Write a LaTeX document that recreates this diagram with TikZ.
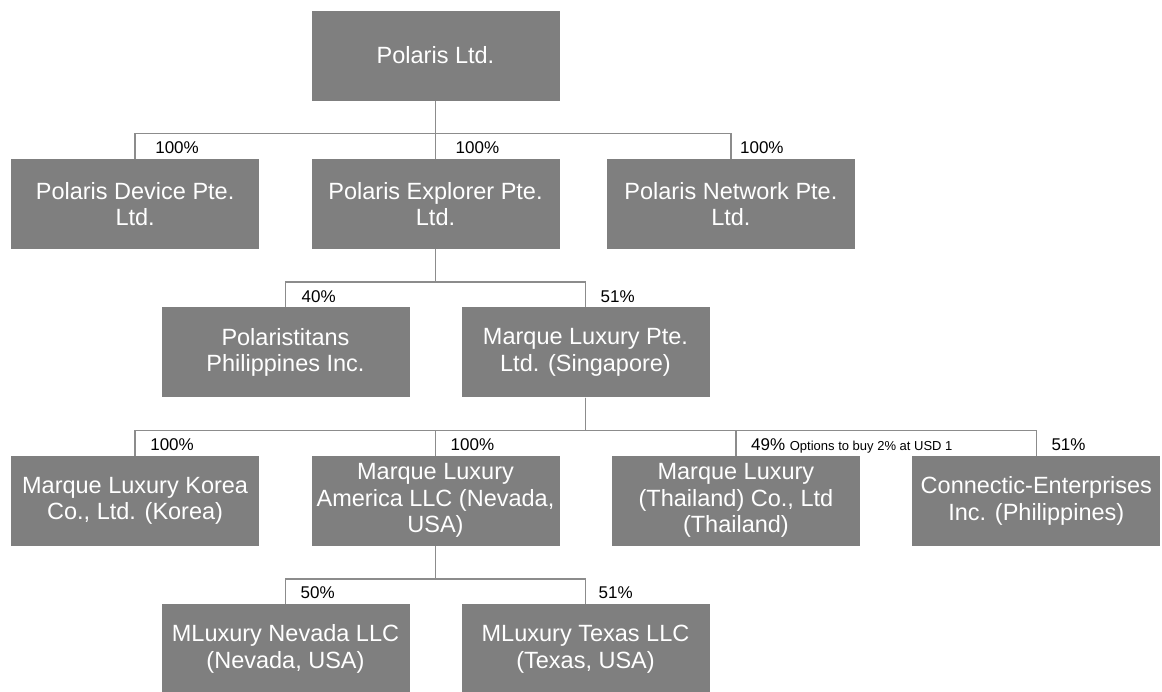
\documentclass[tikz,border=0pt]{standalone}
\usepackage{fontspec}
\setmainfont{Liberation Sans}
\usepackage{tikz}
\usetikzlibrary{positioning}
\definecolor{boxgray}{HTML}{7F7F7F}
\definecolor{linegray}{HTML}{8C8C8C}
\newcommand{\smallnote}[1]{{\fontsize{13}{15}\selectfont #1}}

\begin{document}
\begin{tikzpicture}[x=1pt, y=1pt, node distance=58pt and 52pt,
      box/.style={fill=boxgray, text=white, align=center, inner sep=0pt,
        minimum width=248pt, minimum height=90pt, font=\fontsize{23.5}{26.5}\selectfont},
      pct/.style={anchor=base west, inner sep=0pt, font=\fontsize{17}{20}\selectfont},
      link/.style={draw=linegray, line width=1.5pt}]
    \useasboundingbox (0,0) rectangle (1162,-691);
    % top holding
    \node[box] (ltd) at (435.5,-55.5) {Polaris Ltd.};
    \node[box, below=of ltd] (explorer) {Polaris Explorer Pte.\\Ltd.};
    \node[box, left=of explorer] (device) {Polaris Device Pte.\\Ltd.};
    \node[box, right=47pt of explorer] (network) {Polaris Network Pte.\\Ltd.};
    % second level
    \node[box, below=of explorer, xshift=-150pt] (titans) {Polaristitans\\Philippines Inc.};
    \node[box, below=of explorer, xshift=150pt] (marque) {Marque Luxury Pte.\\Ltd. (Singapore)};
    % third level
    \node[box, below=of marque, xshift=-150pt] (america) {Marque Luxury\\America LLC (Nevada,\\USA)};
    \node[box, left=of america] (korea) {Marque Luxury Korea\\Co., Ltd. (Korea)};
    \node[box, right=of america] (thailand) {Marque Luxury\\(Thailand) Co., Ltd\\(Thailand)};
    \node[box, right=of thailand] (connectic) {Connectic-Enterprises\\Inc. (Philippines)};
    % fourth level
    \node[box, below=of america, xshift=-150pt] (nevada) {MLuxury Nevada LLC\\(Nevada, USA)};
    \node[box, below=of america, xshift=150pt] (texas) {MLuxury Texas LLC\\(Texas, USA)};

    \draw[link] (ltd.south) -- ++(0,-33) -| (device.north);
    \draw[link] (ltd.south) -- (explorer.north);
    \draw[link] (ltd.south) -- ++(0,-33) -| (network.north);
    \draw[link] (explorer.south) -- ++(0,-33) -| (titans.north);
    \draw[link] (explorer.south) -- ++(0,-33) -| (marque.north);
    \draw[link] (marque.south) -- ++(0,-33) -| (korea.north);
    \draw[link] (marque.south) -- ++(0,-33) -| (america.north);
    \draw[link] (marque.south) -- ++(0,-33) -| (thailand.north);
    \draw[link] (marque.south) -- ++(0,-33) -| (connectic.north);
    \draw[link] (america.south) -- ++(0,-33) -| (nevada.north);
    \draw[link] (america.south) -- ++(0,-33) -| (texas.north);

    \node[pct] (pdevice) at ([xshift=20pt, yshift=5pt]device.north) {100\%};
    \node[pct] (pexplorer) at ([xshift=20pt, yshift=5pt]explorer.north) {100\%};
    \node[pct] (pnetwork) at ([xshift=9pt, yshift=5pt]network.north) {100\%};
    \node[pct] (ptitans) at ([xshift=16pt, yshift=5pt]titans.north) {40\%};
    \node[pct] (pmarque) at ([xshift=15pt, yshift=5pt]marque.north) {51\%};
    \node[pct] (pkorea) at ([xshift=15pt, yshift=5pt]korea.north) {100\%};
    \node[pct] (pamerica) at ([xshift=15pt, yshift=5pt]america.north) {100\%};
    \node[pct] (pthailand) at ([xshift=15pt, yshift=5pt]thailand.north) {49\% \smallnote{Options to buy 2\% at USD 1}};
    \node[pct] (pconnectic) at ([xshift=15pt, yshift=5pt]connectic.north) {51\%};
    \node[pct] (pnevada) at ([xshift=15pt, yshift=5pt]nevada.north) {50\%};
    \node[pct] (ptexas) at ([xshift=13pt, yshift=5pt]texas.north) {51\%};
  \end{tikzpicture}
\end{document}
